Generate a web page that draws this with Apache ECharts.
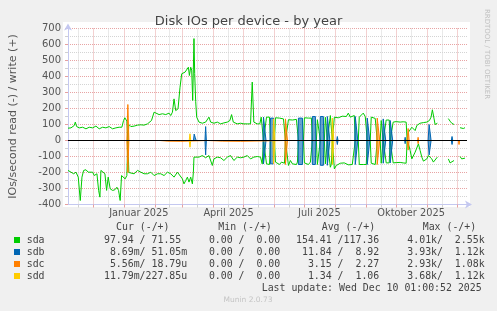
<!DOCTYPE html>
<html><head><meta charset="utf-8">
<script src="https://cdn.jsdelivr.net/npm/echarts@6/dist/echarts.min.js"></script>
<style>html,body{margin:0;padding:0;background:#f0f0f0;}#c{width:497px;height:311px;}</style>
</head><body><div id="c"></div><script>
// x = day index since 2024-11-06 (400 days up to 2025-12-10)
const xTickLabels = ['Januar 2025', 'April 2025', 'Juli 2025', 'Oktober 2025'];
const xTickDays = [71, 161, 252, 344];
const monthStartDays = [25, 56, 87, 115, 146, 176, 207, 237, 268, 299, 329, 360, 390];
const midMonthDays = [10, 40, 71, 102, 130, 161, 191, 222, 252, 283, 314, 344, 375];

const sdaWrite = [[0,77],[3,79],[6.3,94],[7.3,115],[8.7,87],[11.3,79],[14.7,83],[18,73],[21.3,83],[24.7,79],[28,90],[31.3,73],[34.7,83],[38,79],[41.3,87],[44.7,73],[48,79],[51.3,83],[54,83],[55.7,125],[57,142],[59,121],[60,0],[61,100],[63,87],[66.3,90],[69.7,96],[73,98],[76.3,96],[79.7,104],[81.3,115],[83.7,125],[86.3,177],[88,167],[91.3,162],[94.7,167],[98,162],[101.3,171],[103,156],[104.7,177],[106.3,260],[108,187],[110.3,198],[112.3,333],[114,417],[115.7,412],[117.3,427],[119,437],[120.7,458],[121.7,406],[123,458],[124,440],[125,250],[126.3,637],[127,420],[128,245],[129,146],[131.3,115],[134.7,108],[138,115],[141.3,146],[143,115],[146.3,108],[149.7,115],[153,104],[156.3,110],[159.7,115],[162.3,125],[164,162],[165.7,115],[169.7,104],[173,108],[176.3,104],[179.7,104],[183,104],[184.7,365],[186.3,115],[189.7,104],[192.3,104],[193.7,146],[195,140],[196,0],[198,0],[199,146],[201,140],[202,146],[203,0],[207,0],[208,142],[210,150],[212,140],[214,146],[216,135],[217,140],[218,0],[220,0],[221,130],[223,140],[225,128],[227,135],[229,132],[230,140],[231,0],[236,0],[237,142],[239,150],[241,140],[243,146],[244,140],[245,0],[249,0],[250,130],[251,140],[252,135],[253,0],[257,0],[258,145],[259,140],[260,0],[262,0],[263,156],[264,150],[265,0],[266,0],[267,145],[269,156],[271,142],[273,150],[275,152],[277,160],[279,150],[281,171],[283,146],[285,150],[287,156],[288,0],[291,0],[292,146],[294,150],[296,171],[298,150],[299,145],[300,0],[303,0],[304,146],[306,142],[308,138],[309,135],[310,0],[313,0],[314,125],[315,130],[316,0],[318,0],[319,128],[321,125],[322,128],[323,0],[325,0],[326,115],[329,118],[333,115],[336,117],[339,115],[340,0],[341.3,52],[343,42],[344.7,83],[346.3,87],[348,62],[349.7,94],[351.3,104],[353,108],[356.3,112],[359.7,115],[362.3,125],[364,146],[365.3,192],[367,135],[368,100],[370.3,108],[375,null],[381.3,137],[383,121],[384.7,108],[387,100],[390,null],[393,80],[394.7,85],[396.3,75],[398,80]];
const sdaRead = [[0,187],[3,198],[5.7,208],[8,198],[10.3,229],[12.3,375],[14,229],[15.7,187],[18,183],[20.3,198],[22.3,208],[24.7,198],[26.3,219],[29,208],[30.7,312],[32,354],[33,187],[34.7,187],[37,208],[38.7,312],[40.3,229],[42.3,302],[44.7,312],[47,308],[49,292],[50.7,312],[52.3,375],[53.7,219],[55.7,208],[57.3,240],[59,219],[60,0],[61,200],[63,198],[66.3,208],[69.7,187],[73,198],[76.3,208],[79.7,208],[83,198],[86.3,219],[89.7,208],[93,208],[96.3,219],[99.7,198],[103,208],[106.3,229],[109.7,198],[111.3,208],[114.7,240],[116.3,271],[118,250],[119.7,229],[121.3,260],[123,229],[124.7,271],[125.7,198],[126.3,104],[128,115],[131.3,104],[134.7,94],[138,108],[141.3,94],[144.7,156],[146.3,115],[149.7,104],[153,108],[156.3,125],[159.7,104],[163,94],[166.3,125],[169.7,104],[173,108],[176.3,104],[179.7,94],[183,115],[186.3,104],[189.7,100],[193,104],[194.7,146],[195,146],[196,0],[198,0],[199,146],[201,142],[202,150],[203,0],[207,0],[208,135],[210,146],[212,150],[214,135],[216,146],[217,142],[218,0],[220,0],[221,156],[223,125],[225,146],[227,140],[229,150],[230,135],[231,0],[236,0],[237,140],[239,146],[241,150],[243,135],[244,146],[245,0],[249,0],[250,150],[251,142],[252,156],[253,0],[257,0],[258,146],[259,140],[260,0],[262,0],[263,167],[264,150],[265,0],[266,0],[267,177],[269,156],[271,146],[273,142],[275,150],[277,140],[279,146],[281,152],[283,146],[285,150],[287,146],[288,0],[291,0],[292,150],[294,152],[296,150],[298,156],[299,150],[300,0],[303,0],[304,142],[306,142],[308,150],[309,148],[310,0],[313,0],[314,142],[315,140],[316,0],[318,0],[319,140],[321,137],[322,140],[323,0],[325,0],[326,140],[329,138],[333,137],[336,140],[339,142],[340,0],[341.3,21],[343,62],[344.7,115],[346.3,104],[348,73],[349.7,83],[351.3,21],[353,62],[354.7,104],[356.3,129],[358,121],[359.7,115],[361.3,94],[363,83],[364.7,115],[366.3,135],[368,125],[370.3,104],[375,null],[381.3,115],[383,140],[384.7,146],[387,125],[390,null],[393,100],[394.7,115],[396.3,105],[398,110]];

const sdbWrite = [[0,0],[109,0],[109.7,10],[110.4,0],[125.8,0],[126.5,40],[127.5,20],[128.5,0],[137.3,0],[138,87],[138.7,0],[195.5,0],[196,146],[198,146],[198.5,0],[202.5,0],[203,140],[206,140],[206.5,0],[230.5,0],[231,140],[235,140],[235.5,0],[244.5,0],[245,150],[248,150],[248.5,0],[252.5,0],[253,150],[256,150],[256.5,0],[259.5,0],[260,150],[262,150],[262.5,0],[269.3,0],[270,25],[270.7,0],[287.5,0],[288,150],[290,150],[290.5,0],[299.5,0],[300,140],[302,140],[302.5,0],[315.5,0],[316,135],[318,135],[318.5,0],[322.5,0],[323,125],[325,125],[325.5,0],[337.5,0],[338,20],[338.5,0],[361,0],[362,100],[363,100],[364,0],[384.3,0],[385,25],[385.7,0],[400,0]];
const sdbRead = [[0,0],[4,0],[4.7,8],[5.4,0],[17.3,0],[18,8],[18.7,0],[30.6,0],[31.3,8],[32,0],[42.3,0],[43,8],[43.7,0],[54,0],[54.7,8],[55.4,0],[137.3,0],[138,90],[138.7,0],[195.5,0],[196,146],[198,146],[198.5,0],[202.5,0],[203,146],[206,146],[206.5,0],[230.5,0],[231,150],[235,150],[235.5,0],[244.5,0],[245,150],[248,150],[248.5,0],[252.5,0],[253,155],[256,155],[256.5,0],[259.5,0],[260,155],[262,155],[262.5,0],[269.3,0],[270,25],[270.7,0],[287.5,0],[288,150],[290,150],[290.5,0],[299.5,0],[300,150],[302,150],[302.5,0],[315.5,0],[316,142],[318,142],[318.5,0],[322.5,0],[323,140],[325,140],[325.5,0],[337.5,0],[338,20],[338.5,0],[361,0],[362,90],[363,90],[364,0],[384.3,0],[385,25],[385.7,0],[400,0]];

const sdcWrite = [[0,0],[59,0],[60,225],[61,0],[217.5,0],[218,135],[219.5,135],[220,0],[309.5,0],[310,140],[312,140],[312.5,0],[340,0],[341,75],[342,0],[350.5,0],[351,20],[351.5,0],[400,0]];
const sdcRead = [[0,0],[59,0],[60,200],[61,0],[65.5,0],[66,8],[66.5,0],[74.5,0],[75,8],[75.5,0],[92,0],[93,5],[100,4],[113,5],[114,0],[140,0],[141,5],[155,4],[173,5],[174,0],[217.5,0],[218,150],[219.5,150],[220,0],[309.5,0],[310,150],[312,150],[312.5,0],[340,0],[341,60],[342,0],[350.5,0],[351,20],[351.5,0],[391.5,0],[392,25],[392.5,0],[400,0]];

const sddWrite = [[0,0],[121.5,0],[122.3,42],[123,0],[205.5,0],[206,135],[207,135],[207.5,0],[264.5,0],[265,140],[266,140],[266.5,0],[400,0]];
const sddRead = [[0,0],[121.5,0],[122.3,42],[123,0],[205.5,0],[206,145],[207,145],[207.5,0],[264.5,0],[265,150],[266,150],[266.5,0],[400,0]];

const zeroLine = [[0,0],[400,0]];

const legendNames = ['sda', 'sdb', 'sdc', 'sdd'];
const legendColors = ['#00CC00', '#0066B3', '#FF8000', '#FFCC00'];
const legendHeaders = ['Cur (-/+)', 'Min (-/+)', 'Avg (-/+)', 'Max (-/+)'];
const legendCur = [' 97.94 / 71.55 ', '  8.69m/ 51.05m', '  5.56m/ 18.79u', ' 11.79m/227.85u'];
const legendMin = ['  0.00 /  0.00 ', '  0.00 /  0.00 ', '  0.00 /  0.00 ', '  0.00 /  0.00 '];
const legendAvg = ['154.41 /117.36 ', ' 11.84 /  8.92 ', '  3.15 /  2.27 ', '  1.34 /  1.06 '];
const legendMax = ['  4.01k/  2.55k', '  3.93k/  1.12k', '  2.93k/  1.08k', '  3.68k/  1.12k'];
const lastUpdate = 'Last update: Wed Dec 10 01:00:52 2025';

const xCats = Array.from({length: 401}, (_, i) => String(i));
const neg = arr => arr.map(p => [p[0], p[1] == null ? null : -p[1]]);

function lineSeries(name, data, color, area, z) {
  const s = {
    name, type: 'line', data, xAxisIndex: 0, yAxisIndex: 0,
    showSymbol: false, symbol: 'none', connectNulls: false, animation: false, z,
    lineStyle: {color, width: 1}, itemStyle: {color}, emphasis: {disabled: true}
  };
  if (area) s.areaStyle = {color, opacity: 0.6};
  return s;
}

const mono = 'DejaVu Sans Mono';
const rowsY = [240, 252, 264, 276];
const colX = [98, 197, 296, 395.4];
const headerX = [116, 218.3, 321.7, 422.7];
const graphics = [
  {type: 'rect', z: -100, shape: {x: 63, y: 22, width: 407, height: 185}, style: {fill: '#ffffff'}},
  {type: 'text', x: 487, y: 54, rotation: -Math.PI / 2, style: {text: 'RRDTOOL / TOBI OETIKER', fontSize: 7, fontFamily: 'DejaVu Sans', fill: '#c0c0c0', align: 'center', verticalAlign: 'middle'}},
  {type: 'text', x: 261.7, y: 288, style: {text: lastUpdate, fontSize: 9.9, fontFamily: mono, fill: '#444', align: 'left', verticalAlign: 'middle'}},
  {type: 'text', x: 248, y: 300.5, style: {text: 'Munin 2.0.73', fontSize: 7.5, fontFamily: 'DejaVu Sans', fill: '#c4c4c4', align: 'center', verticalAlign: 'middle'}}
];
legendHeaders.forEach((h, i) => graphics.push({type: 'text', x: headerX[i], y: 227, style: {text: h, fontSize: 9.9, fontFamily: mono, fill: '#444', align: 'left', verticalAlign: 'middle'}}));
legendNames.forEach((n, r) => {
  const y = rowsY[r];
  graphics.push({type: 'rect', shape: {x: 14, y: y - 3, width: 6, height: 6}, style: {fill: legendColors[r]}});
  graphics.push({type: 'text', x: 26.7, y, style: {text: n, fontSize: 9.9, fontFamily: mono, fill: '#444', align: 'left', verticalAlign: 'middle'}});
  [legendCur, legendMin, legendAvg, legendMax].forEach((col, c) => {
    graphics.push({type: 'text', x: colX[c], y, style: {text: col[r], fontSize: 9.9, fontFamily: mono, fill: '#444', align: 'left', verticalAlign: 'middle'}});
  });
});

const chart = echarts.init(document.getElementById('c'), null, {renderer: 'canvas'});
chart.setOption({
  backgroundColor: '#f0f0f0',
  animation: false,
  title: {text: 'Disk IOs per device - by year', left: 'center', top: 10, textStyle: {fontSize: 13, fontWeight: 'normal', color: '#444', fontFamily: 'DejaVu Sans'}},
  grid: {left: 67, top: 28.5, width: 400, height: 176, containLabel: false},
  xAxis: [
    {type: 'value', min: 0, max: 400, show: false, position: 'bottom'},
    {type: 'category', data: xCats, boundaryGap: false, position: 'bottom',
      axisLine: {show: true, onZero: false, lineStyle: {color: '#c4c8f0'}, symbol: ['none', 'arrow'], symbolSize: [6, 7], symbolOffset: [0, 5]},
      axisTick: {show: true, length: 3, interval: (i) => monthStartDays.includes(i), lineStyle: {color: '#e6a0a0'}},
      axisLabel: {show: true, margin: 4, interval: (i) => xTickDays.includes(i), formatter: (v, i) => xTickLabels[xTickDays.indexOf(i)] || '', color: '#555', fontSize: 9.8, fontFamily: 'DejaVu Sans'},
      splitLine: {show: true, interval: (i) => monthStartDays.includes(i), lineStyle: {color: '#e8a4a4', type: [1, 1], width: 1}}
    },
    {type: 'category', data: xCats, boundaryGap: false, position: 'bottom',
      axisLine: {show: false, onZero: false},
      axisTick: {show: true, length: 3, interval: (i) => midMonthDays.includes(i), lineStyle: {color: '#d0d0d0'}},
      axisLabel: {show: false},
      splitLine: {show: true, interval: (i) => midMonthDays.includes(i), lineStyle: {color: '#d4d4d4', type: [1, 1], width: 1}}
    }
  ],
  yAxis: {type: 'value', min: -400, max: 700, interval: 100,
    name: 'IOs/second read (-) / write (+)', nameLocation: 'middle', nameGap: 49, nameRotate: 90,
    nameTextStyle: {fontSize: 11, color: '#555', fontFamily: 'DejaVu Sans'},
    axisLine: {show: true, onZero: false, lineStyle: {color: '#c4c8f0'}, symbol: ['none', 'arrow'], symbolSize: [6, 7], symbolOffset: [0, 5]},
    axisTick: {show: true, length: 3, lineStyle: {color: '#e6a0a0'}},
    minorTick: {show: true, splitNumber: 2, length: 3, lineStyle: {color: '#d0d0d0'}},
    axisLabel: {margin: 7, color: '#555', fontSize: 10, fontFamily: 'DejaVu Sans'},
    splitLine: {show: true, lineStyle: {color: '#e8a4a4', type: [1, 1], width: 1}},
    minorSplitLine: {show: true, lineStyle: {color: '#d4d4d4', type: [1, 1], width: 1}}
  },
  series: [
    lineSeries('sda', sdaWrite, legendColors[0], false, 2),
    lineSeries('sda read', neg(sdaRead), legendColors[0], false, 2),
    lineSeries('sdb', sdbWrite, legendColors[1], true, 3),
    lineSeries('sdb read', neg(sdbRead), legendColors[1], true, 3),
    lineSeries('sdc', sdcWrite, legendColors[2], true, 4),
    lineSeries('sdc read', neg(sdcRead), legendColors[2], true, 4),
    lineSeries('sdd', sddWrite, legendColors[3], true, 5),
    lineSeries('sdd read', neg(sddRead), legendColors[3], true, 5),
    Object.assign(lineSeries('zero', zeroLine, '#000000', false, 10), {lineStyle: {color: '#000', width: 1}})
  ],
  graphic: graphics
});
</script></body></html>
